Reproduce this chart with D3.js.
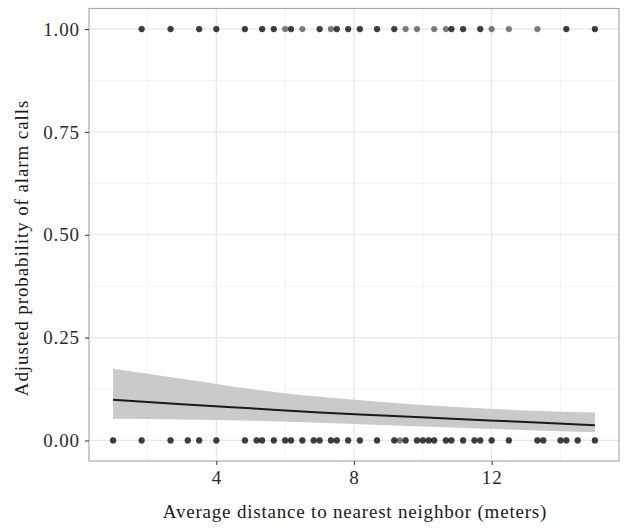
<!DOCTYPE html>
<html>
<head>
<meta charset="utf-8">
<script src="https://cdn.jsdelivr.net/npm/d3@7"></script>
<style>
  html, body { margin: 0; padding: 0; background: #ffffff; }
  svg { display: block; }
</style>
</head>
<body>
<svg id="chart" width="624" height="528"></svg>
<script>
// Observations with an alarm call (y = 1), x = average distance to nearest neighbor (m)
const callX = [1.83,1.83, 2.67,2.67, 3.5,3.5, 4,4, 4.83,4.83, 5.33,5.33, 5.67,5.67, 6.0,
  6.17,6.17, 6.5, 7.0,7.0, 7.33, 7.5,7.5, 7.83,7.83, 8.17,8.17, 8.67,8.67, 9.17,9.17,
  9.5, 9.83, 10.33, 10.67, 10.83,10.83, 11.17,11.17, 11.67,11.67, 12.0, 12.5, 13.33,
  14.17,14.17, 15.0,15.0];
// Observations without an alarm call (y = 0)
const noCallX = [1.0,1.0, 1.83,1.83, 2.67,2.67, 3.17,3.17, 3.5,3.5, 4,4, 4.83,4.83,
  5.17,5.17, 5.33,5.33, 5.67,5.67, 6.0,6.0, 6.17,6.17, 6.5,6.5, 6.83,6.83, 7.0,7.0,
  7.33,7.33, 7.5,7.5, 7.83,7.83, 8.17,8.17, 8.67,8.67, 9.17,9.17, 9.33, 9.5,9.5,
  9.83,9.83, 10.0,10.0, 10.17,10.17, 10.33,10.33, 10.67,10.67, 10.83,10.83,
  11.17,11.17, 11.5,11.5, 11.67,11.67, 12.0,12.0, 12.5,12.5, 13.33,13.33, 13.5,13.5,
  14.0,14.0, 14.17,14.17, 14.5,14.5, 15.0,15.0];
// Fitted probability and confidence band
const fitX     = [1, 3, 5, 7, 9, 11, 13, 15];
const fitP     = [0.099, 0.088, 0.078, 0.068, 0.060, 0.052, 0.045, 0.037];
const fitUpper = [0.174, 0.150, 0.125, 0.106, 0.092, 0.081, 0.073, 0.068];
const fitLower = [0.053, 0.051, 0.048, 0.043, 0.037, 0.031, 0.025, 0.020];
// Ticks
const xTicks = [4, 8, 12];
const xMinor = [2, 6, 10, 14];
const yTicks = [0, 0.25, 0.5, 0.75, 1];
const yMinor = [0.125, 0.375, 0.625, 0.875];
const xTitle = "Average distance to nearest neighbor (meters)";
const yTitle = "Adjusted probability of alarm calls";

const FONT = '"Liberation Serif", "Times New Roman", serif';
const L = 89, R = 619, T = 8.5, B = 461;
const svg = d3.select("#chart");
const x = d3.scaleLinear().domain([0.3, 15.7]).range([L, R]);
const y = d3.scaleLinear().domain([-0.05, 1.05]).range([B, T]);

svg.append("rect").attr("width", 624).attr("height", 528).attr("fill", "#fff");

const grid = svg.append("g");
grid.selectAll(".xm").data(xMinor).join("line")
  .attr("x1", d => x(d)).attr("x2", d => x(d)).attr("y1", T).attr("y2", B)
  .attr("stroke", "#f4f4f4").attr("stroke-width", 1);
grid.selectAll(".ym").data(yMinor).join("line")
  .attr("y1", d => y(d)).attr("y2", d => y(d)).attr("x1", L).attr("x2", R)
  .attr("stroke", "#f4f4f4").attr("stroke-width", 1);
grid.selectAll(".xM").data(xTicks).join("line")
  .attr("x1", d => x(d)).attr("x2", d => x(d)).attr("y1", T).attr("y2", B)
  .attr("stroke", "#e6e6e6").attr("stroke-width", 1.2);
grid.selectAll(".yM").data(yTicks).join("line")
  .attr("y1", d => y(d)).attr("y2", d => y(d)).attr("x1", L).attr("x2", R)
  .attr("stroke", "#e6e6e6").attr("stroke-width", 1.2);

// Confidence band
const band = fitX.map((d, i) => ({x: d, lo: fitLower[i], hi: fitUpper[i], p: fitP[i]}));
svg.append("path").datum(band)
  .attr("d", d3.area().x(d => x(d.x)).y0(d => y(d.lo)).y1(d => y(d.hi)).curve(d3.curveMonotoneX))
  .attr("fill", "#c9cacc");
svg.append("path").datum(band)
  .attr("d", d3.line().x(d => x(d.x)).y(d => y(d.p)).curve(d3.curveMonotoneX))
  .attr("fill", "none").attr("stroke", "#1a1a1a").attr("stroke-width", 2);

// Points
const pts = callX.map(v => ({x: v, y: 1})).concat(noCallX.map(v => ({x: v, y: 0})));
svg.append("g").selectAll("circle").data(pts).join("circle")
  .attr("cx", d => x(d.x)).attr("cy", d => y(d.y)).attr("r", 3.1)
  .attr("fill", "#000").attr("fill-opacity", 0.5);

// Panel border
svg.append("rect").attr("x", L).attr("y", T).attr("width", R - L).attr("height", B - T)
  .attr("fill", "none").attr("stroke", "#aaaaaa").attr("stroke-width", 1.2);

// Axes
const xAxis = svg.append("g").attr("transform", `translate(0,${B})`)
  .call(d3.axisBottom(x).tickValues(xTicks).tickSize(4).tickPadding(6).tickFormat(d3.format("d")));
const yAxis = svg.append("g").attr("transform", `translate(${L},0)`)
  .call(d3.axisLeft(y).tickValues(yTicks).tickSize(4).tickPadding(5).tickFormat(d3.format(".2f")));
[xAxis, yAxis].forEach(a => {
  a.attr("font-family", null).attr("font-size", null);
  a.select(".domain").remove();
  a.selectAll(".tick line").attr("stroke", "#444").attr("stroke-width", 1.1);
  a.selectAll(".tick text").attr("fill", "#2b2b2b")
    .style("font-size", "19px").style("font-family", FONT).style("letter-spacing", "0.9px");
});

svg.append("text").attr("x", 355).attr("y", 518).attr("text-anchor", "middle")
  .attr("fill", "#1a1a1a").style("font-size", "19px").style("font-family", FONT)
  .style("letter-spacing", "0.8px").text(xTitle);
svg.append("text").attr("transform", `translate(28,248) rotate(-90)`).attr("text-anchor", "middle")
  .attr("fill", "#1a1a1a").style("font-size", "19px").style("font-family", FONT)
  .style("letter-spacing", "0.9px").text(yTitle);
</script>
</body>
</html>
